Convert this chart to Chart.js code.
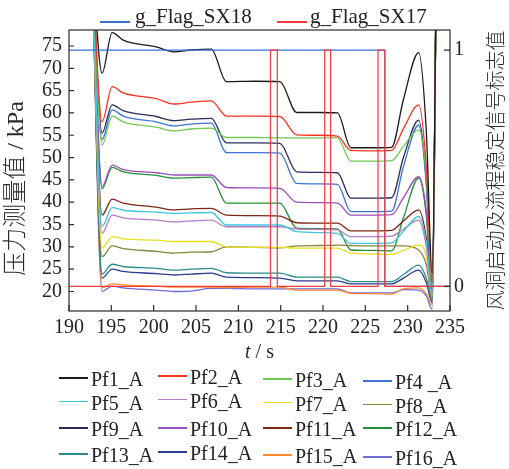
<!DOCTYPE html>
<html>
<head>
<meta charset="utf-8">
<script src="https://cdn.jsdelivr.net/npm/chart.js@4.4.1/dist/chart.umd.min.js"></script>
<style>
  body { margin: 0; background: #fff; }
  #wrap { position: relative; width: 509px; height: 469px; overflow: hidden;
          font-family: "Times New Roman", "Liberation Serif", serif; color: #222; }
  #chart { position: absolute; left: 0; top: 0; }
  .lg { position: absolute; white-space: nowrap; font-size: 20px; line-height: 20px; }
  .lg .trait { position: absolute; left: 0; height: 1.6px; }
  .lg span { display: inline-block; }
</style>
</head>
<body>
<div id="wrap"><canvas id="chart" width="509" height="469"></canvas></div>
<script>
// temps commun (s)
const temps = [192.7, 193.9, 195.1, 196.4, 200.3, 202.4, 204.4, 206.8, 208.6, 212, 214.9, 216.9, 219.5, 221.7, 223.3, 226, 228.1, 229.5, 231.3, 232.2, 232.9, 233.4];

// pressions (kPa)
const pf1  = [95, 68.9, 78.0, 76.3, 74.8, 73.7, 74.1, 74.3, 67.0, 67.1, 67.0, 60.1, 60.1, 60.0, 52.2, 52.2, 52.3, 63.0, 73.5, 56.0, 24.0, 95];
const pf2  = [95, 58.0, 65.9, 64.5, 63.2, 62.0, 62.4, 62.7, 59.3, 59.3, 59.2, 55.1, 55.0, 54.8, 51.6, 51.5, 51.6, 56.5, 61.8, 48.0, 22.0, 95];
const pf3  = [95, 52.8, 59.3, 58.0, 56.8, 56.0, 56.4, 56.6, 54.5, 54.5, 54.4, 54.4, 54.4, 54.4, 49.2, 49.2, 49.3, 52.5, 56.2, 46.0, 21.0, 95];
const pf4  = [95, 54.0, 60.7, 59.3, 58.0, 57.1, 57.5, 57.7, 51.1, 51.1, 51.0, 44.2, 44.1, 44.0, 37.9, 37.9, 38.0, 48.0, 57.3, 44.0, 20.5, 95];
const pf5  = [95, 34.6, 38.8, 38.2, 37.8, 37.5, 37.6, 37.7, 34.9, 34.9, 34.9, 33.4, 33.2, 33.0, 30.8, 30.8, 30.9, 33.5, 36.8, 31.0, 19.5, 95];
const pf6  = [95, 33.0, 37.1, 36.5, 36.0, 35.6, 35.8, 36.0, 34.5, 34.5, 34.5, 34.0, 33.9, 33.8, 32.3, 32.3, 32.4, 34.0, 36.0, 30.0, 19.0, 95];
const pf7  = [95, 29.7, 32.3, 31.8, 31.5, 31.2, 31.2, 31.2, 30.0, 29.9, 29.9, 29.7, 29.7, 29.7, 28.6, 28.4, 28.3, 29.2, 30.4, 28.0, 19.0, 95];
const pf8  = [95, 27.8, 30.2, 29.6, 29.0, 28.6, 28.8, 28.9, 30.0, 29.9, 29.8, 30.2, 30.3, 30.4, 30.3, 30.2, 30.2, 30.2, 29.3, 26.0, 18.5, 95];
const pf9  = [95, 55.5, 61.8, 60.5, 59.2, 58.3, 58.6, 58.8, 53.3, 53.3, 53.2, 46.8, 46.7, 46.6, 40.9, 40.9, 41.0, 50.0, 58.4, 45.0, 21.0, 95];
const pf10 = [95, 43.5, 48.3, 47.3, 46.6, 46.1, 46.1, 46.1, 43.3, 43.2, 43.1, 40.0, 39.9, 39.8, 37.1, 37.1, 37.2, 41.0, 45.7, 38.0, 20.0, 95];
const pf11 = [95, 37.1, 40.7, 39.8, 38.9, 38.3, 38.5, 38.6, 37.1, 37.0, 36.9, 35.4, 35.3, 35.3, 33.6, 33.6, 33.7, 35.8, 38.3, 32.0, 19.5, 95];
const pf12 = [95, 43.0, 47.8, 46.8, 46.0, 45.4, 45.5, 45.6, 39.8, 39.8, 39.8, 34.2, 34.1, 34.0, 29.3, 29.2, 29.1, 36.5, 45.4, 37.0, 20.0, 95];
const pf13 = [95, 23.9, 26.1, 25.6, 25.2, 24.8, 25.0, 25.2, 24.2, 24.1, 24.1, 23.2, 23.2, 23.2, 22.2, 22.2, 22.2, 23.8, 25.9, 23.0, 18.0, 95];
const pf14 = [95, 23.0, 25.0, 24.5, 24.0, 23.7, 23.9, 24.1, 23.2, 23.1, 23.0, 22.4, 22.4, 22.4, 21.7, 21.7, 21.7, 23.0, 24.8, 22.0, 17.5, 95];
const pf15 = [95, 20.8, 21.7, 21.5, 21.2, 21.0, 21.0, 21.0, 20.9, 21.0, 21.0, 20.3, 20.3, 20.3, 19.6, 19.5, 19.4, 20.6, 20.8, 19.5, 17.0, 95];
const pf16 = [95, 20.0, 21.2, 20.8, 20.3, 20.0, 20.1, 20.7, 20.7, 20.6, 20.6, 20.6, 20.6, 20.6, 19.7, 19.7, 19.7, 20.4, 20.3, 19.0, 16.0, 95];

const noms = ['Pf1_A', 'Pf2_A', 'Pf3_A', 'Pf4 _A', 'Pf5_A', 'Pf6_A', 'Pf7_A', 'Pf8_A',
              'Pf9_A', 'Pf10_A', 'Pf11_A', 'Pf12_A', 'Pf13_A', 'Pf14_A', 'Pf15_A', 'Pf16_A'];
const couleurs = ['#1a1a1a', '#f5341f', '#6fc94f', '#3d72d6', '#3fc6df', '#b77cc9', '#e6de1c', '#85853f',
                  '#2b2b58', '#9b4fbb', '#7e2616', '#23903a', '#2a8c8c', '#2c3a8e', '#ff8a2e', '#6c6cd6'];

// signaux (0/1)
const flag18T = [190, 227.3, 227.3, 235];
const flag18V = [1, 1, 0, 0];
const flag17T = [190, 213.8, 213.8, 214.6, 214.6, 220.2, 220.2, 220.9, 220.9, 226.5, 226.5, 227.3, 227.3, 235];
const flag17V = [0, 0, 1, 1, 0, 0, 1, 1, 0, 0, 1, 1, 0, 0];

const xTicks = [190, 195, 200, 205, 210, 215, 220, 225, 230, 235];
const yTicks = [20, 25, 30, 35, 40, 45, 50, 55, 60, 65, 70, 75];
const y2Ticks = [0, 1];

const serie = [pf1, pf2, pf3, pf4, pf5, pf6, pf7, pf8, pf9, pf10, pf11, pf12, pf13, pf14, pf15, pf16];
const LATIN = '"Times New Roman", "Liberation Serif", serif';
const SERIF = '"Times New Roman", "Liberation Serif", "Noto Sans CJK SC", serif';

// le premier jeu est dessiné au-dessus
const datasets = [
    { label: 'g_Flag_SX17', data: flag17T.map((t, i) => ({ x: t, y: flag17V[i] })),
      yAxisID: 'y2', borderColor: '#f03c3c', borderWidth: 1.2, tension: 0 },
    { label: 'g_Flag_SX18', data: flag18T.map((t, i) => ({ x: t, y: flag18V[i] })),
      yAxisID: 'y2', borderColor: '#3a6fd8', borderWidth: 1.2, tension: 0 },
    ...serie.map((vals, k) => ({
        label: noms[k],
        data: temps.map((t, i) => ({ x: t, y: vals[i] })),
        yAxisID: 'y',
        borderColor: couleurs[k],
        borderWidth: 1.3,
        cubicInterpolationMode: 'monotone'
    }))
];

// cadre, graduations intérieures et titres d'axes
const decor = {
    id: 'decor',
    afterDraw(chart) {
        const { ctx, chartArea: a, scales } = chart;
        ctx.save();
        ctx.strokeStyle = '#2b2b2b';
        ctx.lineWidth = 1.2;
        ctx.strokeRect(a.left, a.top, a.right - a.left, a.bottom - a.top);
        ctx.beginPath();
        xTicks.forEach(v => { const p = scales.x.getPixelForValue(v); ctx.moveTo(p, a.bottom); ctx.lineTo(p, a.bottom - 6); });
        yTicks.forEach(v => { const p = scales.y.getPixelForValue(v); ctx.moveTo(a.left, p); ctx.lineTo(a.left + 5, p); });
        y2Ticks.forEach(v => { const p = scales.y2.getPixelForValue(v); ctx.moveTo(a.right, p); ctx.lineTo(a.right - 6, p); });
        ctx.stroke();

        ctx.fillStyle = '#2a2a2a';
        ctx.textBaseline = 'middle';
        ctx.textAlign = 'center';
        // axe gauche
        ctx.save();
        ctx.translate(17, (a.top + a.bottom) / 2 + 18);
        ctx.rotate(-Math.PI / 2);
        ctx.font = '300 24px ' + SERIF;
        ctx.fillText('压力测量值 / kPa', 0, 0);
        ctx.restore();
        // axe droit
        ctx.save();
        ctx.translate(495, (a.top + a.bottom) / 2);
        ctx.rotate(-Math.PI / 2);
        ctx.font = '300 20px "Noto Sans CJK SC"';
        ctx.fillText('风洞启动及流程稳定信号标志值', 0, 0);
        ctx.restore();
        // axe x : t en italique
        ctx.textBaseline = 'alphabetic';
        ctx.textAlign = 'left';
        ctx.font = 'italic 20px ' + LATIN;
        const wt = ctx.measureText('t').width;
        ctx.font = '20px ' + LATIN;
        const ws = ctx.measureText(' / s').width;
        const x0 = (a.left + a.right) / 2 - (wt + ws) / 2;
        ctx.font = 'italic 20px ' + LATIN;
        ctx.fillText('t', x0, 358);
        ctx.font = '20px ' + LATIN;
        ctx.fillText(' / s', x0 + wt, 358);
        ctx.restore();
    }
};

const tickFont = { family: LATIN, size: 20 };

new Chart(document.getElementById('chart'), {
    type: 'line',
    data: { datasets: datasets },
    options: {
        responsive: false,
        animation: false,
        devicePixelRatio: 1,
        layout: { padding: { top: 30, bottom: 103, left: 0, right: 0 } },
        elements: { point: { radius: 0 } },
        plugins: { legend: { display: false }, tooltip: { enabled: false } },
        scales: {
            x: {
                type: 'linear', min: 190, max: 235,
                grid: { display: false, drawTicks: false },
                border: { display: false },
                ticks: { font: tickFont, color: '#222', padding: 5, maxRotation: 0, autoSkip: false },
                afterBuildTicks: s => { s.ticks = xTicks.map(v => ({ value: v })); },
                afterFit: s => { s.height = 55; }
            },
            y: {
                position: 'left', min: 15.63, max: 78.58,
                grid: { display: false, drawTicks: false },
                border: { display: false },
                ticks: { font: tickFont, color: '#222', padding: 7, autoSkip: false },
                afterBuildTicks: s => { s.ticks = yTicks.map(v => ({ value: v })); },
                afterFit: s => { s.width = 69; }
            },
            y2: {
                position: 'right', min: -0.1046, max: 1.0856,
                grid: { display: false, drawTicks: false },
                border: { display: false },
                ticks: { font: tickFont, color: '#222', padding: 4, autoSkip: false },
                afterBuildTicks: s => { s.ticks = y2Ticks.map(v => ({ value: v })); },
                afterFit: s => { s.width = 59; }
            }
        }
    },
    plugins: [decor]
});

// légendes HTML
const wrap = document.getElementById('wrap');
function ajouterItem(texte, couleur, left, top, lineTop, lineW, gap, size) {
    const d = document.createElement('div');
    d.className = 'lg';
    d.style.left = left + 'px';
    d.style.top = top + 'px';
    d.style.fontSize = size + 'px';
    d.style.lineHeight = size + 'px';
    const l = document.createElement('div');
    l.className = 'trait';
    l.style.top = lineTop + 'px';
    l.style.width = lineW + 'px';
    l.style.background = couleur;
    const s = document.createElement('span');
    s.style.marginLeft = gap + 'px';
    s.textContent = texte;
    d.appendChild(l);
    d.appendChild(s);
    wrap.appendChild(d);
}
ajouterItem('g_Flag_SX18', '#3a6fd8', 100, 6, 15, 30, 35, 21);
ajouterItem('g_Flag_SX17', '#f03c3c', 277, 6, 15, 30, 33, 21);

const colX = [59, 158, 263, 363];
const colDy = [0, -2, 1, 3];
const rowY = [369, 392.5, 419, 445];
noms.forEach((nom, i) => {
    const c = i % 4, r = Math.floor(i / 4);
    ajouterItem(nom, couleurs[i], colX[c], rowY[r] + (r === 2 ? 0 : colDy[c]), 8, 29, 32, 20);
});
</script>
</body>
</html>
